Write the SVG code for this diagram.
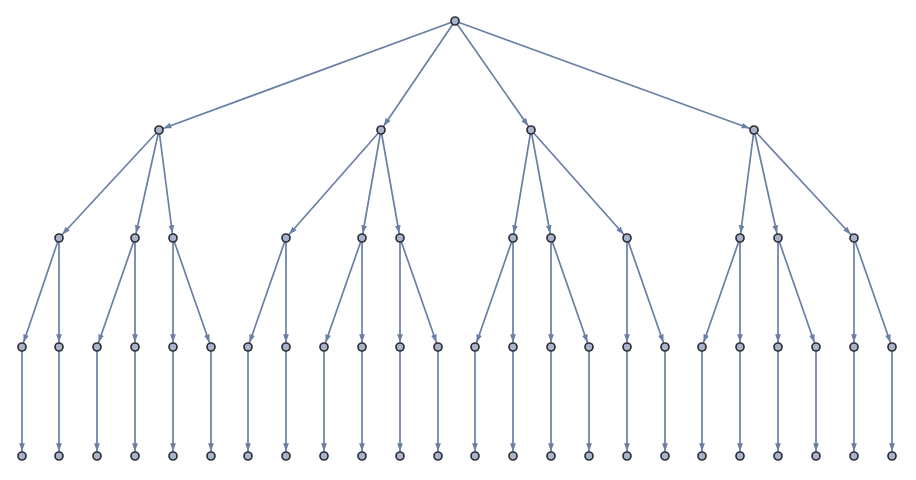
<svg xmlns="http://www.w3.org/2000/svg" width="916" height="480" viewBox="0 0 916 480">
<style>
.e{stroke:#6a7fa6;stroke-width:1.7;fill:none;marker-end:url(#a)}
.n circle{fill:#a7b4cc;stroke:#2f2f35;stroke-width:1.7}
</style>
<defs>
<marker id="a" markerUnits="userSpaceOnUse" markerWidth="16" markerHeight="10" viewBox="0 -5 16 10" refX="12.8" refY="0" orient="auto">
<path d="M0,-2.9 L8,0 L0,2.9 Z" fill="#6a7fa6"/>
</marker>
</defs>
<rect width="916" height="480" fill="#ffffff"/>
<g id="edges">
<line class="e" x1="455" y1="21" x2="159" y2="130"/>
<line class="e" x1="455" y1="21" x2="381" y2="130"/>
<line class="e" x1="455" y1="21" x2="531" y2="130"/>
<line class="e" x1="455" y1="21" x2="754" y2="130"/>
<line class="e" x1="159" y1="130" x2="59" y2="238"/>
<line class="e" x1="159" y1="130" x2="135" y2="238"/>
<line class="e" x1="159" y1="130" x2="173" y2="238"/>
<line class="e" x1="381" y1="130" x2="286" y2="238"/>
<line class="e" x1="381" y1="130" x2="362" y2="238"/>
<line class="e" x1="381" y1="130" x2="400" y2="238"/>
<line class="e" x1="531" y1="130" x2="513" y2="238"/>
<line class="e" x1="531" y1="130" x2="551" y2="238"/>
<line class="e" x1="531" y1="130" x2="627" y2="238"/>
<line class="e" x1="754" y1="130" x2="740" y2="238"/>
<line class="e" x1="754" y1="130" x2="778" y2="238"/>
<line class="e" x1="754" y1="130" x2="854" y2="238"/>
<line class="e" x1="59" y1="238" x2="22" y2="347"/>
<line class="e" x1="59" y1="238" x2="59" y2="347"/>
<line class="e" x1="135" y1="238" x2="97" y2="347"/>
<line class="e" x1="135" y1="238" x2="135" y2="347"/>
<line class="e" x1="173" y1="238" x2="173" y2="347"/>
<line class="e" x1="173" y1="238" x2="211" y2="347"/>
<line class="e" x1="286" y1="238" x2="248" y2="347"/>
<line class="e" x1="286" y1="238" x2="286" y2="347"/>
<line class="e" x1="362" y1="238" x2="324" y2="347"/>
<line class="e" x1="362" y1="238" x2="362" y2="347"/>
<line class="e" x1="400" y1="238" x2="400" y2="347"/>
<line class="e" x1="400" y1="238" x2="438" y2="347"/>
<line class="e" x1="513" y1="238" x2="475" y2="347"/>
<line class="e" x1="513" y1="238" x2="513" y2="347"/>
<line class="e" x1="551" y1="238" x2="551" y2="347"/>
<line class="e" x1="551" y1="238" x2="589" y2="347"/>
<line class="e" x1="627" y1="238" x2="627" y2="347"/>
<line class="e" x1="627" y1="238" x2="665" y2="347"/>
<line class="e" x1="740" y1="238" x2="702" y2="347"/>
<line class="e" x1="740" y1="238" x2="740" y2="347"/>
<line class="e" x1="778" y1="238" x2="778" y2="347"/>
<line class="e" x1="778" y1="238" x2="816" y2="347"/>
<line class="e" x1="854" y1="238" x2="854" y2="347"/>
<line class="e" x1="854" y1="238" x2="892" y2="347"/>
<line class="e" x1="22" y1="347" x2="22" y2="456"/>
<line class="e" x1="59" y1="347" x2="59" y2="456"/>
<line class="e" x1="97" y1="347" x2="97" y2="456"/>
<line class="e" x1="135" y1="347" x2="135" y2="456"/>
<line class="e" x1="173" y1="347" x2="173" y2="456"/>
<line class="e" x1="211" y1="347" x2="211" y2="456"/>
<line class="e" x1="248" y1="347" x2="248" y2="456"/>
<line class="e" x1="286" y1="347" x2="286" y2="456"/>
<line class="e" x1="324" y1="347" x2="324" y2="456"/>
<line class="e" x1="362" y1="347" x2="362" y2="456"/>
<line class="e" x1="400" y1="347" x2="400" y2="456"/>
<line class="e" x1="438" y1="347" x2="438" y2="456"/>
<line class="e" x1="475" y1="347" x2="475" y2="456"/>
<line class="e" x1="513" y1="347" x2="513" y2="456"/>
<line class="e" x1="551" y1="347" x2="551" y2="456"/>
<line class="e" x1="589" y1="347" x2="589" y2="456"/>
<line class="e" x1="627" y1="347" x2="627" y2="456"/>
<line class="e" x1="665" y1="347" x2="665" y2="456"/>
<line class="e" x1="702" y1="347" x2="702" y2="456"/>
<line class="e" x1="740" y1="347" x2="740" y2="456"/>
<line class="e" x1="778" y1="347" x2="778" y2="456"/>
<line class="e" x1="816" y1="347" x2="816" y2="456"/>
<line class="e" x1="854" y1="347" x2="854" y2="456"/>
<line class="e" x1="892" y1="347" x2="892" y2="456"/>
</g>
<g id="nodes" class="n">
<g id="n0"><circle cx="455" cy="21" r="4"/></g>
<g id="n1"><circle cx="159" cy="130" r="4"/></g>
<g id="n2"><circle cx="381" cy="130" r="4"/></g>
<g id="n3"><circle cx="531" cy="130" r="4"/></g>
<g id="n4"><circle cx="754" cy="130" r="4"/></g>
<g id="n5"><circle cx="59" cy="238" r="4"/></g>
<g id="n6"><circle cx="135" cy="238" r="4"/></g>
<g id="n7"><circle cx="173" cy="238" r="4"/></g>
<g id="n8"><circle cx="286" cy="238" r="4"/></g>
<g id="n9"><circle cx="362" cy="238" r="4"/></g>
<g id="n10"><circle cx="400" cy="238" r="4"/></g>
<g id="n11"><circle cx="513" cy="238" r="4"/></g>
<g id="n12"><circle cx="551" cy="238" r="4"/></g>
<g id="n13"><circle cx="627" cy="238" r="4"/></g>
<g id="n14"><circle cx="740" cy="238" r="4"/></g>
<g id="n15"><circle cx="778" cy="238" r="4"/></g>
<g id="n16"><circle cx="854" cy="238" r="4"/></g>
<g id="n17"><circle cx="22" cy="347" r="4"/></g>
<g id="n18"><circle cx="59" cy="347" r="4"/></g>
<g id="n19"><circle cx="97" cy="347" r="4"/></g>
<g id="n20"><circle cx="135" cy="347" r="4"/></g>
<g id="n21"><circle cx="173" cy="347" r="4"/></g>
<g id="n22"><circle cx="211" cy="347" r="4"/></g>
<g id="n23"><circle cx="248" cy="347" r="4"/></g>
<g id="n24"><circle cx="286" cy="347" r="4"/></g>
<g id="n25"><circle cx="324" cy="347" r="4"/></g>
<g id="n26"><circle cx="362" cy="347" r="4"/></g>
<g id="n27"><circle cx="400" cy="347" r="4"/></g>
<g id="n28"><circle cx="438" cy="347" r="4"/></g>
<g id="n29"><circle cx="475" cy="347" r="4"/></g>
<g id="n30"><circle cx="513" cy="347" r="4"/></g>
<g id="n31"><circle cx="551" cy="347" r="4"/></g>
<g id="n32"><circle cx="589" cy="347" r="4"/></g>
<g id="n33"><circle cx="627" cy="347" r="4"/></g>
<g id="n34"><circle cx="665" cy="347" r="4"/></g>
<g id="n35"><circle cx="702" cy="347" r="4"/></g>
<g id="n36"><circle cx="740" cy="347" r="4"/></g>
<g id="n37"><circle cx="778" cy="347" r="4"/></g>
<g id="n38"><circle cx="816" cy="347" r="4"/></g>
<g id="n39"><circle cx="854" cy="347" r="4"/></g>
<g id="n40"><circle cx="892" cy="347" r="4"/></g>
<g id="n41"><circle cx="22" cy="456" r="4"/></g>
<g id="n42"><circle cx="59" cy="456" r="4"/></g>
<g id="n43"><circle cx="97" cy="456" r="4"/></g>
<g id="n44"><circle cx="135" cy="456" r="4"/></g>
<g id="n45"><circle cx="173" cy="456" r="4"/></g>
<g id="n46"><circle cx="211" cy="456" r="4"/></g>
<g id="n47"><circle cx="248" cy="456" r="4"/></g>
<g id="n48"><circle cx="286" cy="456" r="4"/></g>
<g id="n49"><circle cx="324" cy="456" r="4"/></g>
<g id="n50"><circle cx="362" cy="456" r="4"/></g>
<g id="n51"><circle cx="400" cy="456" r="4"/></g>
<g id="n52"><circle cx="438" cy="456" r="4"/></g>
<g id="n53"><circle cx="475" cy="456" r="4"/></g>
<g id="n54"><circle cx="513" cy="456" r="4"/></g>
<g id="n55"><circle cx="551" cy="456" r="4"/></g>
<g id="n56"><circle cx="589" cy="456" r="4"/></g>
<g id="n57"><circle cx="627" cy="456" r="4"/></g>
<g id="n58"><circle cx="665" cy="456" r="4"/></g>
<g id="n59"><circle cx="702" cy="456" r="4"/></g>
<g id="n60"><circle cx="740" cy="456" r="4"/></g>
<g id="n61"><circle cx="778" cy="456" r="4"/></g>
<g id="n62"><circle cx="816" cy="456" r="4"/></g>
<g id="n63"><circle cx="854" cy="456" r="4"/></g>
<g id="n64"><circle cx="892" cy="456" r="4"/></g>
</g>
</svg>
